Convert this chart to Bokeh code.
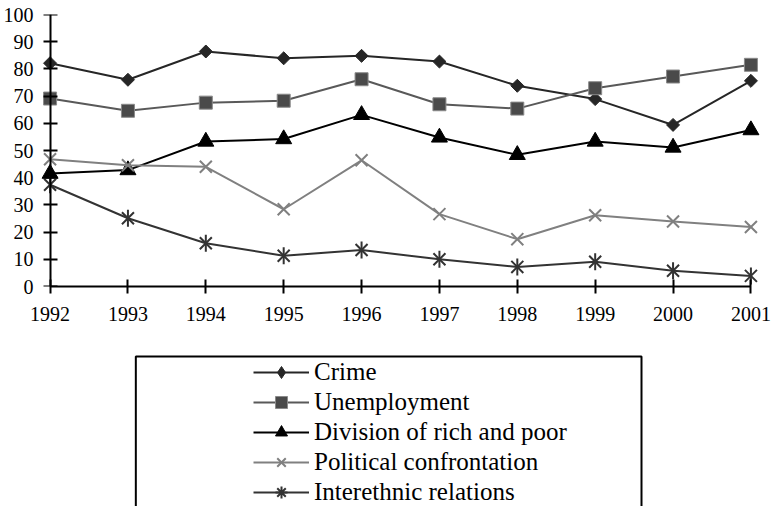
import math
from bokeh.plotting import figure
from bokeh.models import Range1d, FixedTicker, Legend, LegendItem, LinearAxis
from bokeh.layouts import column
from bokeh.embed import file_html
from bokeh.resources import INLINE

# ---- data ----
years = [1992, 1993, 1994, 1995, 1996, 1997, 1998, 1999, 2000, 2001]
crime = [82.1, 76.0, 86.4, 83.9, 84.8, 82.7, 73.8, 68.9, 59.4, 75.6]
unemployment = [69.1, 64.6, 67.6, 68.3, 76.2, 67.0, 65.4, 72.9, 77.2, 81.5]
division = [41.5, 42.8, 53.3, 54.2, 63.1, 54.8, 48.4, 53.3, 51.1, 57.5]
political = [46.8, 44.6, 44.0, 28.4, 46.4, 26.6, 17.4, 26.2, 23.9, 21.9]
interethnic = [37.4, 25.1, 15.9, 11.3, 13.4, 10.0, 7.2, 9.1, 5.8, 3.9]
y_ticks = [0, 10, 20, 30, 40, 50, 60, 70, 80, 90, 100]
labels = ["Crime", "Unemployment", "Division of rich and poor",
          "Political confrontation", "Interethnic relations"]

FONT = "Liberation Serif"

# ---- main chart ----
p = figure(width=773, height=354,
           x_range=Range1d(1991.8, 2001.2), y_range=Range1d(0, 100),
           output_backend="svg", toolbar_location=None,
           min_border_left=34, min_border_right=7,
           min_border_top=14, min_border_bottom=68)
p.xgrid.visible = False
p.ygrid.visible = False
p.outline_line_color = None
p.background_fill_color = "white"

p.xaxis.ticker = FixedTicker(ticks=years)
p.yaxis.ticker = FixedTicker(ticks=y_ticks)
p.xaxis.bounds = (years[0], years[-1])
p.yaxis.bounds = (y_ticks[0], y_ticks[-1])
p.yaxis.fixed_location = years[0]
for ax in (p.xaxis, p.yaxis):
    ax.axis_line_width = 2
    ax.axis_line_color = "black"
    ax.major_tick_line_width = 2
    ax.major_tick_line_color = "black"
    ax.major_tick_in = 7
    ax.major_tick_out = 7
    ax.minor_tick_line_color = None
    ax.major_label_text_font = FONT
    ax.major_label_text_font_size = "20px"
    ax.major_label_text_color = "black"
p.xaxis.major_label_standoff = 13
p.yaxis.major_label_text_color = None

# labels-only axis for the y values (sits just left of the y axis line)
ylab = LinearAxis(ticker=FixedTicker(ticks=y_ticks), axis_line_color=None,
                  major_tick_line_color=None, minor_tick_line_color=None,
                  major_tick_in=0, major_tick_out=0, major_label_standoff=1,
                  major_label_text_font=FONT, major_label_text_font_size="20px",
                  major_label_text_color="black")
p.add_layout(ylab, "left")

styles = [
    dict(line="#262626", marker="square", angle=math.pi / 4, size=9.2, fill="#262626", mline="#262626", mw=1, lmarker="diamond"),
    dict(line="#595959", marker="square", angle=0.0, size=13, fill="#4a4a4a", mline="#8a8a8a", mw=1, lmarker="square"),
    dict(line="#000000", marker="triangle", angle=0.0, size=16, fill="#000000", mline="#000000", mw=1, lmarker="triangle"),
    dict(line="#808080", marker="x", angle=0.0, size=17, fill=None, mline="#808080", mw=2, lmarker="x"),
    dict(line="#333333", marker="x", angle=0.0, size=17, fill=None, mline="#333333", mw=2, lmarker="asterisk"),
]
series = [crime, unemployment, division, political, interethnic]

for vals, st in zip(series, styles):
    p.line(years, vals, line_color=st["line"], line_width=2)
    p.scatter(years, vals, marker=st["marker"], angle=st["angle"], size=st["size"],
              fill_color=st["fill"], line_color=st["mline"], line_width=st["mw"])
    if st is styles[4]:
        p.scatter(years, vals, marker="dash", angle=math.pi / 2, size=17,
                  line_color=st["mline"], line_width=2)

# ---- legend panel ----
leg = figure(width=773, height=152, x_range=Range1d(0, 773), y_range=Range1d(152, 0),
             output_backend="svg", toolbar_location=None, min_border=0,
             x_axis_type=None, y_axis_type=None)
leg.outline_line_color = None
leg.xgrid.visible = False
leg.ygrid.visible = False
leg.quad(left=[107], right=[641], top=[2], bottom=[200], fill_color=None,
         line_color="black", line_width=2)

# legend renderers reuse the series (they fall outside this panel's ranges)
items = []
for lab, vals, st in zip(labels, series, styles):
    rs = [leg.line(years, vals, line_color=st["line"], line_width=2),
          leg.scatter(years, vals, marker=st["lmarker"],
                      fill_color=st["fill"], line_color=st["mline"], line_width=st["mw"])]
    items.append(LegendItem(label=lab, renderers=rs))

legend = Legend(items=items, location=(219, -1), orientation="vertical",
                padding=0, margin=0, spacing=0,
                glyph_width=56, glyph_height=30, label_height=30, label_standoff=5,
                label_text_font=FONT, label_text_font_size="25px",
                label_text_color="black",
                border_line_color=None, background_fill_alpha=0)
leg.add_layout(legend)

layout = column(p, leg, spacing=0)
open("out.html", "w").write(file_html(layout, INLINE))
